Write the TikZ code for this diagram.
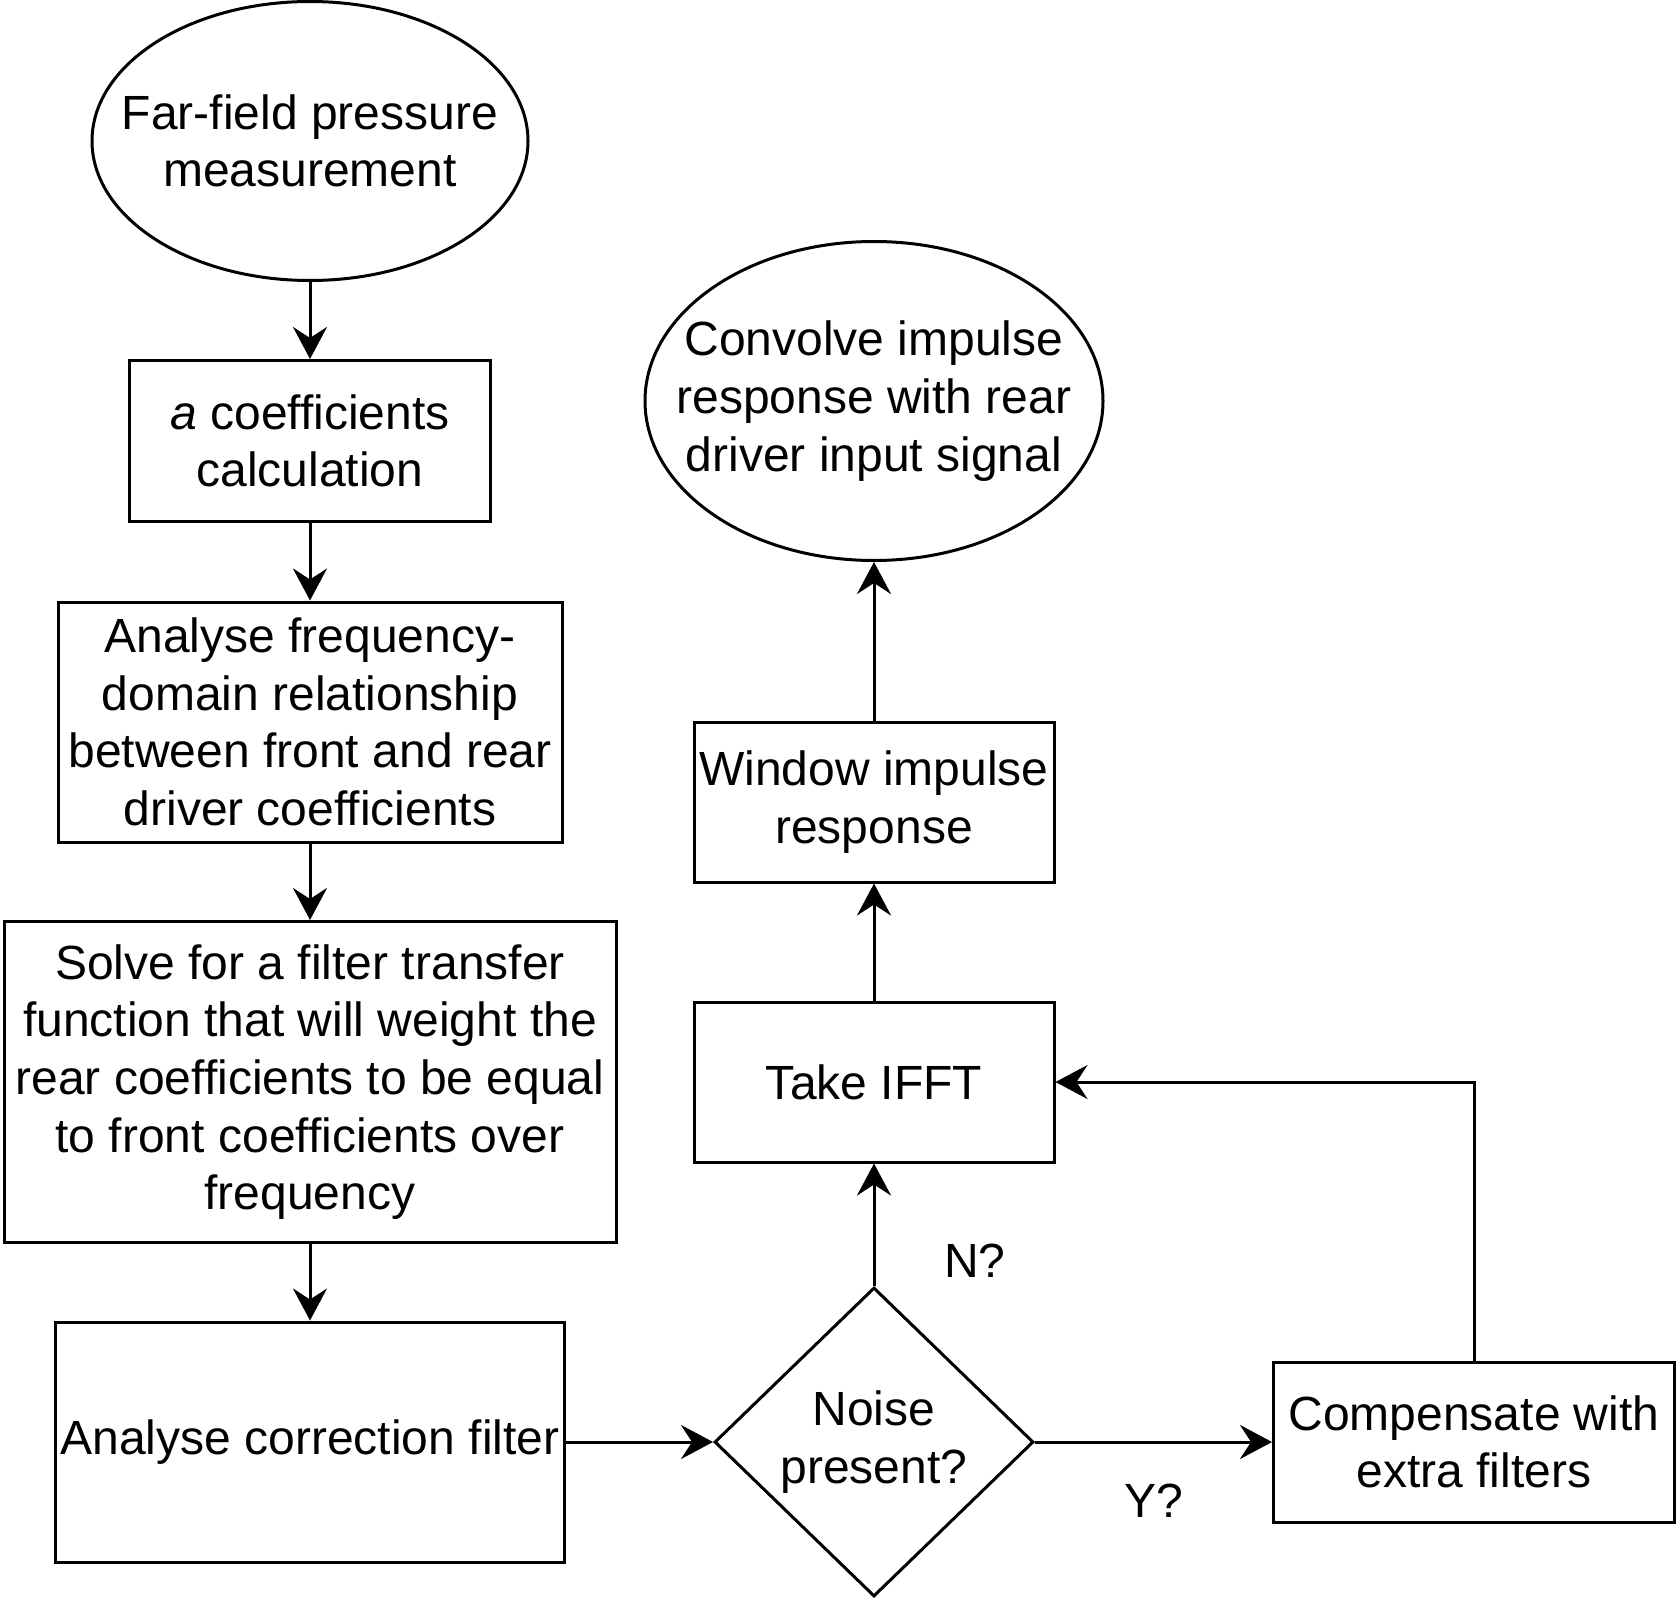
\documentclass[tikz,border=0pt]{standalone}
\usepackage{fontspec}
\setmainfont{Liberation Sans}
\usetikzlibrary{shapes.geometric,arrows.meta}
\begin{document}
\begin{tikzpicture}[x=0.5pt,y=-0.5pt,
  every node/.style={font=\fontsize{24pt}{28.8pt}\selectfont, align=center, inner sep=0pt},
  box/.style={draw, rectangle, line width=1.5pt},
  oval/.style={draw, ellipse, line width=1.5pt},
  decision/.style={draw, diamond, line width=1.5pt},
  arr/.style={line width=1.5pt, -{Stealth[length=16pt,width=17pt,inset=5.5pt]}}
]
\useasboundingbox (0,0) rectangle (1676,1600);

\node[oval, minimum width=218pt, minimum height=139.5pt] (e1) at (310,141) {};
\node (e1t) at (e1) {Far-field pressure\\measurement};

\node[box, minimum width=180.5pt, minimum height=80.5pt] (ba) at (310,441) {\textit{a} coefficients\\calculation};
\node[box, minimum width=252pt, minimum height=120pt] (bf) at (310,722) {Analyse frequency-\\domain relationship\\between front and rear\\driver coefficients};
\node[box, minimum width=306pt, minimum height=160.5pt] (bs) at (310,1082) {Solve for a filter transfer\\function that will weight the\\rear coefficients to be equal\\to front coefficients over\\frequency};
\node[box, minimum width=254.5pt, minimum height=120pt] (bc) at (310,1442) {Analyse correction filter};

\node[decision, minimum width=159.5pt, minimum height=154.5pt] (dia) at (874,1442) {};
\node (diat) at (dia) {Noise\\present?};

\node[box, minimum width=200.5pt, minimum height=80pt] (comp) at (1474,1442) {Compensate with\\extra filters};
\node[box, minimum width=180pt, minimum height=80pt] (ifft) at (874,1082) {Take IFFT};
\node[box, minimum width=180pt, minimum height=80pt] (win) at (874,802) {Window impulse\\response};

\node[oval, minimum width=229pt, minimum height=159.5pt] (e2) at (874,401) {};
\node (e2t) at (e2) {Convolve impulse\\response with rear\\driver input signal};

\node (nl) at (975,1261) {N?};
\node (yl) at (1154,1501) {Y?};

\draw[arr] (e1) -- (ba);
\draw[arr] (ba) -- (bf);
\draw[arr] (bf) -- (bs);
\draw[arr] (bs) -- (bc);
\draw[arr] (bc) -- (dia);
\draw[arr] (dia) -- (comp);
\draw[arr] (dia) -- (ifft);
\draw[arr] (comp.north) |- (ifft.east);
\draw[arr] (ifft) -- (win);
\draw[arr] (win) -- (e2);
\end{tikzpicture}
\end{document}
